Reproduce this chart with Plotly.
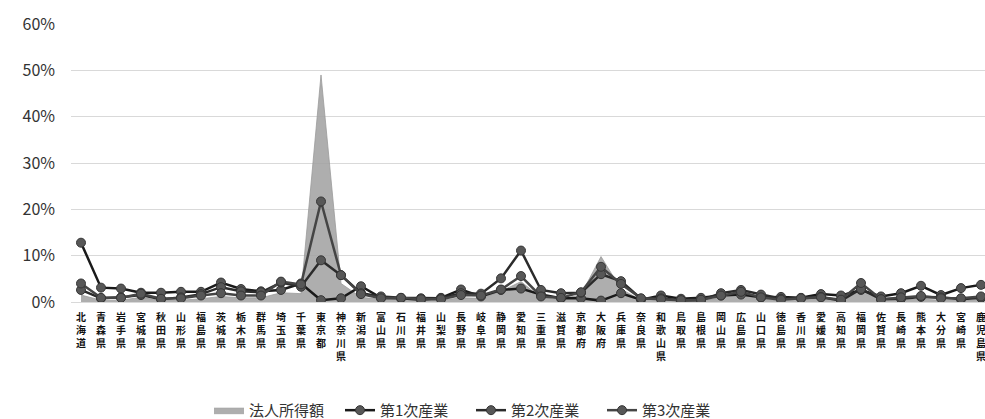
import plotly.graph_objects as go

# 都道府県（沖縄県は描画範囲の右外）
prefectures = [
    "北海道", "青森県", "岩手県", "宮城県", "秋田県", "山形県", "福島県", "茨城県",
    "栃木県", "群馬県", "埼玉県", "千葉県", "東京都", "神奈川県", "新潟県", "富山県",
    "石川県", "福井県", "山梨県", "長野県", "岐阜県", "静岡県", "愛知県", "三重県",
    "滋賀県", "京都府", "大阪府", "兵庫県", "奈良県", "和歌山県", "鳥取県", "島根県",
    "岡山県", "広島県", "山口県", "徳島県", "香川県", "愛媛県", "高知県", "福岡県",
    "佐賀県", "長崎県", "熊本県", "大分県", "宮崎県", "鹿児島県", "沖縄県",
]

# 全国に占める割合（%）
corporate_income = [
    1.5, 0.4, 0.4, 1.0, 0.3, 0.4, 0.7, 1.2, 0.9, 0.9, 2.0, 1.8, 49.0, 4.0, 1.0, 0.6,
    0.6, 0.4, 0.4, 0.9, 0.8, 2.3, 4.4, 0.9, 0.6, 1.6, 9.8, 2.8, 0.4, 0.4, 0.2, 0.3,
    0.9, 1.8, 0.6, 0.4, 0.7, 0.7, 0.3, 2.8, 0.3, 0.5, 0.6, 0.4, 0.3, 0.6, 0.5,
]
primary = [
    12.8, 3.1, 2.9, 2.0, 2.0, 2.2, 2.2, 4.2, 2.8, 2.3, 2.6, 4.0, 0.4, 0.8, 3.4, 0.9,
    0.8, 0.5, 0.9, 2.7, 1.2, 2.6, 2.9, 1.6, 0.8, 0.8, 0.3, 1.9, 0.5, 1.4, 0.7, 0.9,
    1.4, 1.6, 1.0, 1.1, 0.9, 1.7, 1.4, 2.6, 1.2, 1.9, 3.5, 1.5, 3.0, 3.7, 1.0,
]
secondary = [
    2.6, 0.8, 1.0, 1.5, 0.6, 1.0, 1.7, 3.2, 2.3, 2.1, 4.2, 3.3, 9.0, 5.8, 1.9, 1.2,
    0.9, 0.8, 0.8, 1.9, 1.8, 5.1, 11.1, 2.6, 1.9, 2.0, 6.0, 4.5, 0.7, 0.8, 0.3, 0.4,
    1.9, 2.6, 1.6, 0.7, 0.8, 1.1, 0.3, 2.8, 0.6, 0.7, 1.1, 1.0, 0.6, 0.9, 0.4,
]
tertiary = [
    4.0, 0.9, 0.9, 1.8, 0.7, 0.8, 1.4, 1.9, 1.4, 1.4, 4.4, 3.8, 21.7, 5.8, 1.7, 0.8,
    0.9, 0.6, 0.6, 1.5, 1.4, 2.7, 5.6, 1.2, 0.9, 2.1, 7.6, 3.9, 0.8, 0.6, 0.4, 0.5,
    1.4, 2.2, 1.0, 0.5, 0.8, 1.0, 0.5, 4.1, 0.6, 1.0, 1.3, 0.8, 0.8, 1.2, 1.0,
]

y_ticks = [0, 10, 20, 30, 40, 50, 60]


def pct(values):
    return [v / 100 for v in values]


# 縦書きのラベル
vertical_labels = ["<br>".join(name) for name in prefectures]

fig = go.Figure()

fig.add_trace(go.Scatter(
    x=prefectures, y=pct(corporate_income), name="法人所得額",
    mode="lines", line=dict(width=0.8, color="#9a9a9a"),
    fill="tozeroy", fillcolor="rgba(160,160,160,0.85)",
))

line_series = [
    ("第1次産業", primary, "#1a1a1a"),
    ("第2次産業", secondary, "#2b2b2b"),
    ("第3次産業", tertiary, "#454545"),
]
for name, values, color in line_series:
    fig.add_trace(go.Scatter(
        x=prefectures, y=pct(values), name=name,
        mode="lines+markers",
        line=dict(width=2.5, color=color),
        marker=dict(size=9, color="#575757", line=dict(width=1, color="#363636")),
    ))

fig.update_layout(
    width=985, height=419,
    margin=dict(l=71, r=0, t=24, b=117, autoexpand=False),
    paper_bgcolor="white", plot_bgcolor="white",
    font=dict(family="Noto Sans CJK JP, Noto Sans, sans-serif", color="#404040"),
    showlegend=True,
    legend=dict(
        orientation="h", x=0.151, xanchor="left", y=-0.39, yanchor="middle",
        font=dict(size=15, color="#333333"), entrywidth=86, traceorder="normal",
        bgcolor="rgba(0,0,0,0)",
    ),
)

fig.update_xaxes(
    type="category", range=[-0.5, 45.2],
    tickmode="array", tickvals=prefectures, ticktext=vertical_labels,
    tickangle=0, ticks="", showgrid=False,
    showline=True, linecolor="#d9d9d9", linewidth=1,
    ticklabelstandoff=6, automargin=False,
    tickfont=dict(size=10, color="#111111", weight=700),
)

fig.update_yaxes(
    range=[0, 0.6], tickmode="array", tickvals=pct(y_ticks),
    tickformat=".0%", showgrid=True, gridcolor="#d9d9d9", gridwidth=1,
    zeroline=False, showline=False, ticks="", automargin=False,
    ticklabelstandoff=15,
    tickfont=dict(size=16, color="#333333"),
)

fig.write_html("out.html")
